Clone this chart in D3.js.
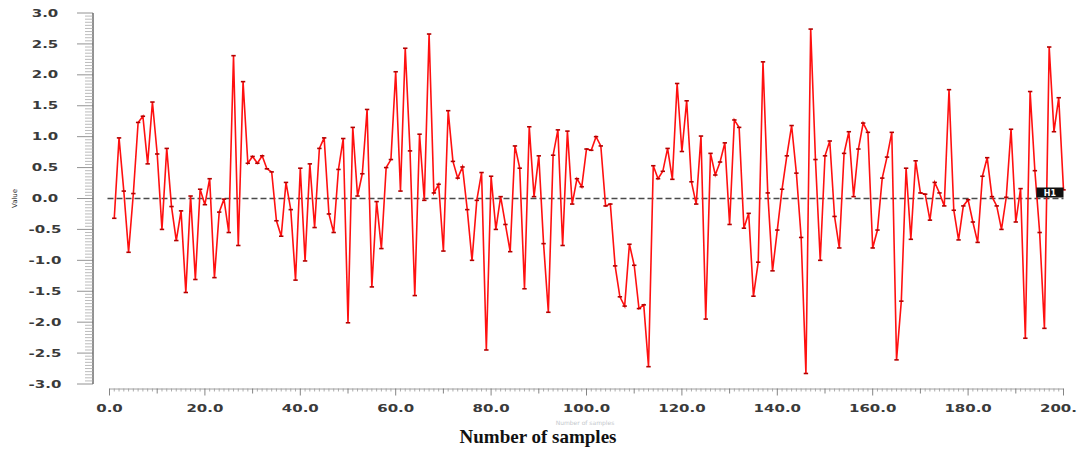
<!DOCTYPE html>
<html>
<head>
<meta charset="utf-8">
<script src="https://cdn.jsdelivr.net/npm/d3@7"></script>
<style>
html,body{margin:0;padding:0;background:#fff;}
svg{display:block;}
</style>
</head>
<body>
<svg id="chart" width="1080" height="452"></svg>
<script>
// ---- data ----
const sampleValues = [
-0.32,0.98,0.12,-0.87,0.08,1.23,1.33,0.56,1.56,0.72,
-0.50,0.81,-0.13,-0.68,-0.20,-1.52,0.04,-1.31,0.15,-0.10,
0.32,-1.28,-0.22,-0.01,-0.55,2.31,-0.76,1.89,0.57,0.68,
0.57,0.69,0.48,0.43,-0.36,-0.61,0.26,-0.18,-1.32,0.49,
-1.01,0.56,-0.47,0.81,0.98,-0.25,-0.55,0.47,0.97,-2.01,
1.15,0.04,0.40,1.44,-1.43,-0.05,-0.81,0.50,0.63,2.05,
0.12,2.43,0.77,-1.57,1.04,-0.03,2.66,0.09,0.23,-0.85,
1.42,0.60,0.33,0.51,-0.18,-1.00,-0.03,0.42,-2.45,0.36,
-0.50,0.03,-0.42,-0.86,0.85,0.49,-1.46,1.16,0.03,0.69,
-0.73,-1.84,0.70,1.11,-0.76,1.09,-0.09,0.32,0.19,0.80,
0.78,1.00,0.85,-0.12,-0.09,-1.09,-1.59,-1.74,-0.74,-1.08,
-1.78,-1.72,-2.72,0.53,0.32,0.44,0.81,0.31,1.86,0.76,
1.58,0.27,-0.09,1.01,-1.95,0.73,0.38,0.59,0.90,-0.42,
1.27,1.15,-0.48,-0.24,-1.58,-1.03,2.21,0.09,-1.17,-0.51,
0.15,0.69,1.18,0.41,-0.63,-2.83,2.74,0.63,-1.00,0.69,
0.93,-0.29,-0.80,0.73,1.08,0.03,0.80,1.22,1.07,-0.80,
-0.51,0.33,0.67,1.07,-2.61,-1.66,0.49,-0.66,0.61,0.09,
0.07,-0.35,0.26,0.09,-0.12,1.76,-0.19,-0.67,-0.12,-0.02,
-0.38,-0.71,0.36,0.66,0.03,-0.12,-0.50,0.02,1.12,-0.38,
0.16,-2.26,1.73,0.45,-0.55,-2.10,2.45,1.08,1.63,0.14
];
const sampleIndex = sampleValues.map((v,i)=>i+1);
const yTickValues = [3.0,2.5,2.0,1.5,1.0,0.5,0.0,-0.5,-1.0,-1.5,-2.0,-2.5,-3.0];
const yTickLabels = ["3.0","2.5","2.0","1.5","1.0","0.5","0.0","-0.5","-1.0","-1.5","-2.0","-2.5","-3.0"];
const xTickValues = [0,20,40,60,80,100,120,140,160,180,200];
const xTickLabels = ["0.0","20.0","40.0","60.0","80.0","100.0","120.0","140.0","160.0","180.0","200."];
const referenceLevel = [0];
const seriesName = ["H1"];
const xTitle = "Number of samples";
const yTitle = "Value";

// ---- chart ----
const svg = d3.select("#chart");
const x = d3.scaleLinear().domain([0,200]).range([109.5,1063.5]);
const y = d3.scaleLinear().domain([-3,3]).range([384,13]);

const axisColor = "#555";
const labelColor = "#3a3a3a";

// y axis
const gy = svg.append("g");
gy.append("line").attr("x1",93).attr("x2",93).attr("y1",y(3)).attr("y2",y(-3))
  .attr("stroke",axisColor).attr("stroke-width",1.3);
d3.range(-3,3.0001,0.05).forEach(v=>{
  const major = Math.abs(v*2 - Math.round(v*2))<1e-6;
  gy.append("line").attr("x1",major?77:85).attr("x2",93)
    .attr("y1",y(v)).attr("y2",y(v))
    .attr("stroke",major?"#777":"#aaa").attr("stroke-width",0.8);
});
yTickValues.forEach((v,i)=>{
  gy.append("text")
    .attr("transform",`translate(45,${y(v)+3.6}) scale(1.5,1)`)
    .attr("text-anchor","middle")
    .attr("font-family","DejaVu Sans")
    .attr("font-weight","bold")
    .attr("font-size","10px")
    .attr("fill",labelColor)
    .text(yTickLabels[i]);
});
svg.append("text")
  .attr("transform",`translate(17,${y(0)}) rotate(-90)`)
  .attr("text-anchor","middle")
  .attr("font-family","DejaVu Sans")
  .attr("font-size","7px")
  .attr("fill","#333")
  .text(yTitle);

// x axis
const gx = svg.append("g");
gx.append("line").attr("x1",x(0)).attr("x2",x(200)).attr("y1",389).attr("y2",389)
  .attr("stroke","#888").attr("stroke-width",0.8);
d3.range(0,201,1).forEach(v=>{
  const len = v%20===0 ? 7 : (v%10===0 ? 5 : 3);
  gx.append("line").attr("x1",x(v)).attr("x2",x(v)).attr("y1",388.5).attr("y2",388.5+len)
    .attr("stroke",v%10===0?"#666":"#999").attr("stroke-width",0.8);
});
xTickValues.forEach((v,i)=>{
  const last = i===xTickValues.length-1;
  gx.append("text")
    .attr("transform",`translate(${last?1040:x(v)},${412}) scale(1.5,1)`)
    .attr("text-anchor",last?"start":"middle")
    .attr("font-family","DejaVu Sans")
    .attr("font-weight","bold")
    .attr("font-size","10px")
    .attr("fill",labelColor)
    .text(xTickLabels[i]);
});

// faint ghost label
svg.append("text")
  .attr("x",585).attr("y",425)
  .attr("text-anchor","middle")
  .attr("font-family","DejaVu Sans")
  .attr("font-size","6px")
  .attr("fill","#c4c8cc")
  .text(xTitle);

// x title
svg.append("text")
  .attr("x",538).attr("y",443)
  .attr("text-anchor","middle")
  .attr("font-family","Liberation Serif")
  .attr("font-weight","bold")
  .attr("font-size","19px")
  .attr("fill","#111")
  .text(xTitle);

// zero reference line
referenceLevel.forEach(r=>{
  svg.append("line")
    .attr("x1",x(0)-2).attr("x2",x(200)).attr("y1",y(r)).attr("y2",y(r))
    .attr("stroke","#4a4a4a").attr("stroke-width",1.4)
    .attr("stroke-dasharray","6,3");
});

// series line
const line = d3.line().x((d,i)=>x(sampleIndex[i])).y(d=>y(d));
svg.append("path").datum(sampleValues)
  .attr("d",line)
  .attr("fill","none")
  .attr("stroke","#ff1010")
  .attr("stroke-width",1.6)
  .attr("stroke-linejoin","miter");

// markers
svg.append("g").selectAll("line").data(sampleValues).join("line")
  .attr("x1",(d,i)=>x(sampleIndex[i])-2.2)
  .attr("x2",(d,i)=>x(sampleIndex[i])+2.2)
  .attr("y1",d=>y(d)).attr("y2",d=>y(d))
  .attr("stroke","#b40000").attr("stroke-width",1.6);

// series tag
const lastX = x(sampleIndex[sampleIndex.length-1]);
svg.append("rect").attr("x",lastX-27).attr("y",y(0)-11).attr("width",27).attr("height",10)
  .attr("fill","#111");
svg.append("text").attr("x",lastX-13.5).attr("y",y(0)-3)
  .attr("text-anchor","middle")
  .attr("font-family","DejaVu Sans")
  .attr("font-weight","bold")
  .attr("font-size","8px")
  .attr("fill","#fff")
  .text(seriesName[0]);
</script>
</body>
</html>
